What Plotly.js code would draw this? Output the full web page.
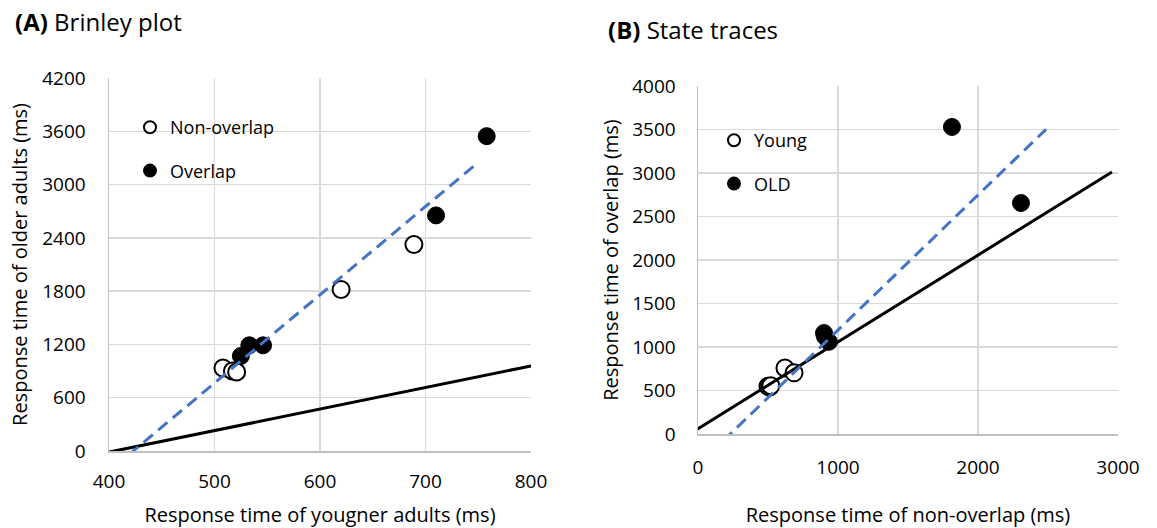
<!DOCTYPE html>
<html>
<head>
<meta charset="utf-8">
<script src="https://cdn.plot.ly/plotly-3.0.1.min.js"></script>
<style>html,body{margin:0;padding:0;background:#fff;}#chart{width:1157px;height:528px;}</style>
</head>
<body>
<div id="chart"></div>
<script>
// ---- Panel A: Brinley plot (x = younger adults, y = older adults) ----
const brinleyNonOverlapX = [508, 517, 521, 620, 689];
const brinleyNonOverlapY = [935, 900, 890, 1818, 2326];
const brinleyOverlapX = [525, 533, 546, 710, 758];
const brinleyOverlapY = [1070, 1190, 1190, 2653, 3545];
const brinleySolidX = [393, 805];
const brinleySolidY = [-30, 970];
const brinleyDashX = [419, 750];
const brinleyDashY = [-40, 3250];

// ---- Panel B: State traces (x = non-overlap, y = overlap) ----
const stateYoungX = [500, 512, 520, 621, 686];
const stateYoungY = [548, 540, 555, 759, 703];
const stateOldX = [900, 907, 935, 1814, 2307];
const stateOldY = [1160, 1120, 1060, 3529, 2655];
const stateSolidX = [-26, 2957];
const stateSolidY = [34, 3011];
const stateDashX = [181, 2486];
const stateDashY = [-77, 3502];

const FONT = 'Open Sans, Noto Sans, sans-serif';
const TICK = 19, AXT = 20;
const openMarker = {symbol: 'circle', size: 17, color: '#ffffff', line: {color: '#000000', width: 2}};
const filledMarker = {symbol: 'circle', size: 17, color: '#000000', line: {color: '#000000', width: 1}};
const solidLine = {color: '#000000', width: 3};
const dashLine = {color: '#4472C4', width: 3, dash: '12px,7px'};

const traces = [
  {x: brinleyOverlapX, y: brinleyOverlapY, mode: 'markers', name: 'Overlap', marker: filledMarker,
   xaxis: 'x', yaxis: 'y', legend: 'legend', legendgroup: 'a2', legendrank: 2, cliponaxis: false},
  {x: brinleyNonOverlapX, y: brinleyNonOverlapY, mode: 'markers', name: 'Non-overlap', marker: openMarker,
   xaxis: 'x', yaxis: 'y', legend: 'legend', legendgroup: 'a1', legendrank: 1, cliponaxis: false},
  {x: brinleySolidX, y: brinleySolidY, mode: 'lines', line: solidLine, showlegend: false, xaxis: 'x', yaxis: 'y'},
  {x: brinleyDashX, y: brinleyDashY, mode: 'lines', line: dashLine, showlegend: false, xaxis: 'x', yaxis: 'y'},

  {x: stateOldX, y: stateOldY, mode: 'markers', name: 'OLD', marker: filledMarker,
   xaxis: 'x2', yaxis: 'y2', legend: 'legend2', legendgroup: 'b2', legendrank: 2, cliponaxis: false},
  {x: stateYoungX, y: stateYoungY, mode: 'markers', name: 'Young', marker: openMarker,
   xaxis: 'x2', yaxis: 'y2', legend: 'legend2', legendgroup: 'b1', legendrank: 1, cliponaxis: false},
  {x: stateSolidX, y: stateSolidY, mode: 'lines', line: solidLine, showlegend: false, xaxis: 'x2', yaxis: 'y2'},
  {x: stateDashX, y: stateDashY, mode: 'lines', line: dashLine, showlegend: false, xaxis: 'x2', yaxis: 'y2'}
];

const W = 1157, H = 528;
const px = v => v / W;
const py = v => 1 - v / H;

function axisBase(extra) {
  return Object.assign({
    showgrid: true, gridcolor: '#d9d9d9', gridwidth: 1.5,
    showline: true, linecolor: '#bfbfbf', linewidth: 1.5,
    zeroline: false, ticks: '', fixedrange: true,
    tickfont: {family: FONT, size: TICK, color: '#000000'}
  }, extra);
}

const layout = {
  width: W, height: H,
  margin: {l: 0, r: 0, t: 0, b: 0},
  paper_bgcolor: '#ffffff', plot_bgcolor: '#ffffff',
  font: {family: FONT, size: 18, color: '#000000'},
  showlegend: true,
  xaxis: axisBase({domain: [px(109), px(531)], range: [400, 800], tick0: 400, dtick: 100, anchor: 'y',
    ticklabelstandoff: 13,
    title: {text: 'Response time of yougner adults (ms)', font: {family: FONT, size: AXT, color: '#000'}, standoff: 16}}),
  yaxis: axisBase({domain: [1 - 451 / H, 1 - 78 / H], range: [0, 4200], tick0: 0, dtick: 600, anchor: 'x',
    ticklabelstandoff: 18,
    title: {text: 'Response time of older adults (ms)', font: {family: FONT, size: AXT, color: '#000'}, standoff: 9}}),
  xaxis2: axisBase({domain: [px(698), px(1118)], range: [0, 3000], tick0: 0, dtick: 1000, anchor: 'y2',
    ticklabelstandoff: 16,
    title: {text: 'Response time of non-overlap (ms)', font: {family: FONT, size: AXT, color: '#000'}, standoff: 31}}),
  yaxis2: axisBase({domain: [1 - 434 / H, 1 - 86 / H], range: [0, 4000], tick0: 0, dtick: 500, anchor: 'x2',
    ticklabelstandoff: 17,
    title: {text: 'Response time of overlap (ms)', font: {family: FONT, size: AXT, color: '#000'}, standoff: 8}}),
  legend: {x: px(130), y: py(109), xanchor: 'left', yanchor: 'top', bgcolor: 'rgba(0,0,0,0)',
    traceorder: 'grouped', tracegroupgap: 17, itemsizing: 'constant',
    font: {family: FONT, size: 18, color: '#000'}},
  legend2: {x: px(714), y: py(122), xanchor: 'left', yanchor: 'top', bgcolor: 'rgba(0,0,0,0)',
    traceorder: 'grouped', tracegroupgap: 17, itemsizing: 'constant',
    font: {family: FONT, size: 18, color: '#000'}},
  annotations: [
    {text: '<b>(A)</b> Brinley plot', xref: 'paper', yref: 'paper', x: px(13), y: py(21),
     xanchor: 'left', yanchor: 'middle', showarrow: false, font: {family: FONT, size: 24, color: '#000'}},
    {text: '<b>(B)</b> State traces', xref: 'paper', yref: 'paper', x: px(606), y: py(29),
     xanchor: 'left', yanchor: 'middle', showarrow: false, font: {family: FONT, size: 24, color: '#000'}}
  ]
};

Plotly.newPlot('chart', traces, layout, {staticPlot: true, displayModeBar: false});
</script>
</body>
</html>
